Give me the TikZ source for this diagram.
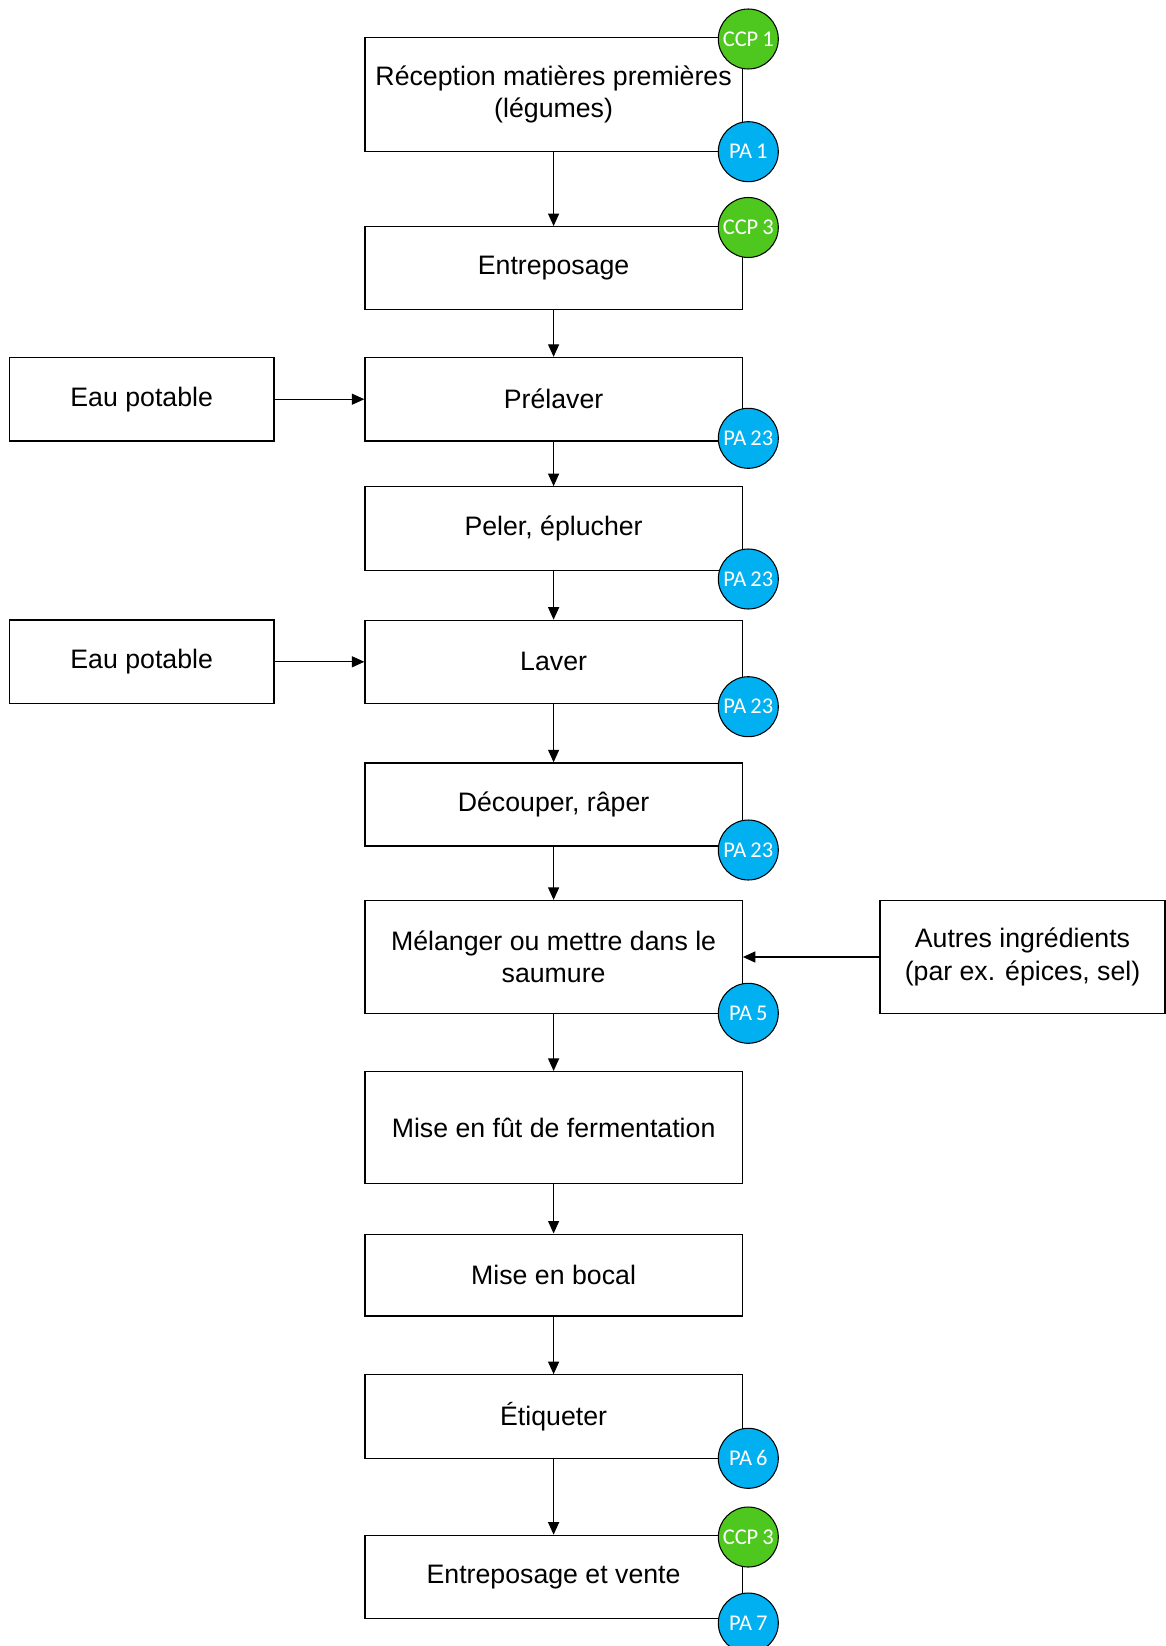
\documentclass[tikz,border=0pt]{standalone}
\usepackage{fontspec}
\setmainfont{Liberation Sans}
\newfontfamily\badgefont[WordSpace=0.8]{Carlito}
\usetikzlibrary{arrows.meta}

\definecolor{ccpgreen}{RGB}{78,200,30}
\definecolor{pablue}{RGB}{0,176,240}

\tikzset{
  etape/.style={draw, line width=0.7pt, minimum width=7.546cm, minimum height=1.66cm,
    inner sep=0pt, align=center, font=\fontsize{15.2}{18.4}\selectfont},
  entree/.style={etape, minimum width=5.29cm, minimum height=1.67cm},
  ccp/.style={circle, draw, line width=0.6pt, fill=ccpgreen, minimum size=1.2cm,
    inner sep=0pt, text=white, font=\badgefont\fontsize{12.8}{12.8}\selectfont},
  pa/.style={ccp, fill=pablue},
  fleche/.style={-{Triangle[length=0.25cm, width=0.22cm]}, line width=0.7pt}
}

\begin{document}
\begin{tikzpicture}[x=0.02cm, y=-0.02cm]
   \useasboundingbox (0,0) rectangle (1166,1646);

   % etapes
   \node[etape, minimum height=2.266cm] (reception) at (553.6,94.5) {Réception matières premières\\(légumes)};
   \node[etape] (entrepos) at (553.6,268.2) {Entreposage};
   \node[etape, minimum height=1.67cm] (prelaver) at (553.6,399.2) {Prélaver};
   \node[etape, minimum height=1.67cm] (peler) at (553.6,528.5) {Peler, éplucher};
   \node[etape] (laver) at (553.6,661.8) {Laver};
   \node[etape] (decouper) at (553.6,804.4) {Découper, râper};
   \node[etape, minimum height=2.26cm] (melanger) at (553.6,957) {Mélanger ou mettre dans le\\saumure};
   \node[etape, minimum height=2.246cm] (fut) at (553.6,1127.7) {Mise en fût de fermentation};
   \node[etape, minimum height=1.64cm] (bocal) at (553.6,1275.1) {Mise en bocal};
   \node[etape, minimum height=1.67cm] (etiqueter) at (553.6,1416.5) {Étiqueter};
   \node[etape] (vente) at (553.6,1576.8) {Entreposage et vente};

   % entrees
   \node[entree] (eau1) at (141.7,399.2) {Eau potable};
   \node[entree] (eau2) at (141.7,661.8) {Eau potable};
   \node[entree, minimum width=5.70cm, minimum height=2.26cm] (autres) at (1022.5,957) {Autres ingrédients\\(par ex. épices, sel)};

   % fleches
   \draw[fleche] (reception) -- (entrepos);
   \draw[fleche] (entrepos) -- (prelaver);
   \draw[fleche] (prelaver) -- (peler);
   \draw[fleche] (peler) -- (laver);
   \draw[fleche] (laver) -- (decouper);
   \draw[fleche] (decouper) -- (melanger);
   \draw[fleche] (melanger) -- (fut);
   \draw[fleche] (fut) -- (bocal);
   \draw[fleche] (bocal) -- (etiqueter);
   \draw[fleche] (etiqueter) -- (vente);
   \draw[fleche] (eau1) -- (prelaver);
   \draw[fleche] (eau2) -- (laver);
   \draw[fleche] (autres) -- (melanger);

   % points critiques
   \node[ccp] (ccp1) at (748.3,39) {CCP 1};
   \node[pa] (pa1) at (748.3,151.7) {PA 1};
   \node[ccp] (ccp3a) at (748.3,227.5) {CCP 3};
   \node[pa] (pa23a) at (748.3,438.3) {PA 23};
   \node[pa] (pa23b) at (748.3,579) {PA 23};
   \node[pa] (pa23c) at (748.3,706.7) {PA 23};
   \node[pa] (pa23d) at (748.3,850) {PA 23};
   \node[pa] (pa5) at (748.3,1013.3) {PA 5};
   \node[pa] (pa6) at (748.3,1458.3) {PA 6};
   \node[ccp] (ccp3b) at (748.3,1537) {CCP 3};
   \node[pa] (pa7) at (748.3,1623) {PA 7};
\end{tikzpicture}
\end{document}
